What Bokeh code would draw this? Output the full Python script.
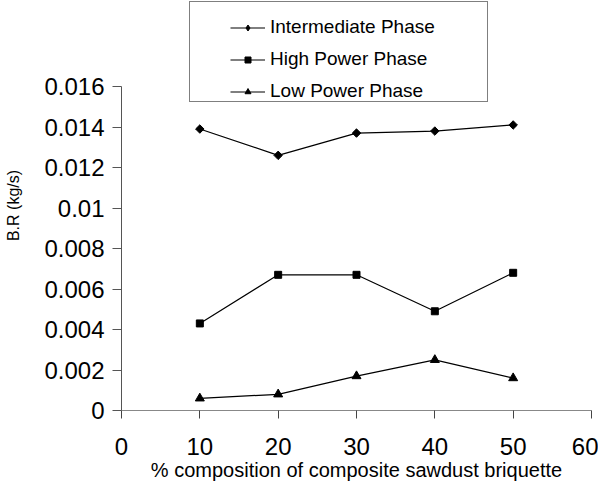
import numpy as np
from bokeh.plotting import figure
from bokeh.models import Range1d, FixedTicker, Legend, LegendItem
from bokeh.embed import file_html
from bokeh.resources import INLINE

# ---- data ----
composition = [10, 20, 30, 40, 50]
intermediate = [0.0139, 0.0126, 0.0137, 0.0138, 0.0141]
high_power = [0.0043, 0.0067, 0.0067, 0.0049, 0.0068]
low_power = [0.0006, 0.0008, 0.0017, 0.0025, 0.0016]

series_names = ["Intermediate Phase", "High Power Phase", "Low Power Phase"]

x_ticks = [0, 10, 20, 30, 40, 50, 60]
x_tick_labels = ["0", "10", "20", "30", "40", "50", "60"]
y_ticks = [0, 0.002, 0.004, 0.006, 0.008, 0.01, 0.012, 0.014, 0.016]
y_tick_labels = ["0", "0.002", "0.004", "0.006", "0.008", "0.01", "0.012", "0.014", "0.016"]

x_title = "% composition of composite sawdust briquette"
y_title = "B.R (kg/s)"

FONT = "Liberation Sans"

# layout (pixels): the frame reaches the top of the canvas so the legend
# (which overlaps the area above the value axis) is not clipped.
W, H = 598, 483
LEFT, RIGHT, BOTTOM = 121, 7, 73
AXIS_PX = 324                       # pixels between y = 0 and y = 0.016
frame_h = H - BOTTOM
y_end = y_ticks[-1] * frame_h / AXIS_PX

p = figure(width=W, height=H, output_backend="svg", toolbar_location=None,
           x_range=Range1d(x_ticks[0], x_ticks[-1]), y_range=Range1d(y_ticks[0], y_end),
           min_border_left=LEFT, min_border_right=RIGHT, min_border_top=0,
           min_border_bottom=BOTTOM)
p.grid.visible = False
p.outline_line_color = None
p.background_fill_color = "white"
p.border_fill_color = "white"

# axes
xa = p.xaxis[0]
xa.ticker = FixedTicker(ticks=x_ticks)
xa.major_label_overrides = dict(zip(x_ticks, x_tick_labels))
xa.minor_tick_line_color = None
xa.major_tick_in = 0
xa.major_tick_out = 8
xa.axis_line_color = "#888888"
xa.major_tick_line_color = "#444444"
xa.major_label_text_font = FONT
xa.major_label_text_font_size = "24px"
xa.major_label_text_color = "black"
xa.major_label_standoff = 19
xa.axis_label = x_title
xa.axis_label_text_font = FONT
xa.axis_label_text_font_size = "20px"
xa.axis_label_text_font_style = "normal"
xa.axis_label_text_color = "black"
xa.axis_label_standoff = 1

ya = p.yaxis[0]
ya.bounds = (y_ticks[0], y_ticks[-1])
ya.ticker = FixedTicker(ticks=y_ticks)
ya.major_label_overrides = dict(zip(y_ticks, y_tick_labels))
ya.minor_tick_line_color = None
ya.major_tick_in = 0
ya.major_tick_out = 9
ya.axis_line_color = "#555555"
ya.major_tick_line_color = "#555555"
ya.major_label_text_font = FONT
ya.major_label_text_font_size = "24px"
ya.major_label_text_color = "black"
ya.major_label_standoff = 8
ya.axis_label = y_title
ya.axis_label_text_font = FONT
ya.axis_label_text_font_size = "16px"
ya.axis_label_text_font_style = "normal"
ya.axis_label_text_color = "black"
ya.axis_label_standoff = 19

# series
r1l = p.line(composition, intermediate, line_color="black", line_width=1.2)
r1m = p.scatter(composition, intermediate, marker="square", angle=np.pi / 4, size=6,
                fill_color="black", line_color="black")
r2l = p.line(composition, high_power, line_color="black", line_width=1.2)
r2m = p.scatter(composition, high_power, marker="square", size=7,
                fill_color="black", line_color="black")
r3l = p.line(composition, low_power, line_color="black", line_width=1.2)
r3m = p.scatter(composition, low_power, marker="triangle", size=9,
                fill_color="black", line_color="black")

# legend-only diamond glyph (size 0 in the plot; the legend sizes it itself)
leg_diamond = p.scatter(composition, intermediate, marker="diamond", size=0,
                        fill_color="black", line_color="black")

# legend border box (an empty item that only provides the frame)
dummy = p.scatter(x=[], y=[], marker="square", size=1, fill_alpha=0, line_alpha=0)
box = Legend(items=[LegendItem(label=" ", renderers=[dummy])],
             location=(68, 308), padding=0, margin=0, spacing=0,
             glyph_width=1, glyph_height=1, label_standoff=0,
             label_width=296, label_height=99, label_text_font_size="4px",
             border_line_color="black", border_line_width=1,
             background_fill_color="white", background_fill_alpha=1)
p.add_layout(box, "center")

leg = Legend(items=[LegendItem(label=series_names[0], renderers=[r1l, leg_diamond]),
                    LegendItem(label=series_names[1], renderers=[r2l, r2m]),
                    LegendItem(label=series_names[2], renderers=[r3l, r3m])],
             location=(109, 308), padding=7, margin=0, spacing=10,
             glyph_width=35, glyph_height=15, label_standoff=5, label_height=22,
             label_text_font=FONT, label_text_font_size="19px", label_text_color="black",
             border_line_color=None, background_fill_alpha=0)
p.add_layout(leg, "center")

open("out.html", "w").write(file_html(p, INLINE))
